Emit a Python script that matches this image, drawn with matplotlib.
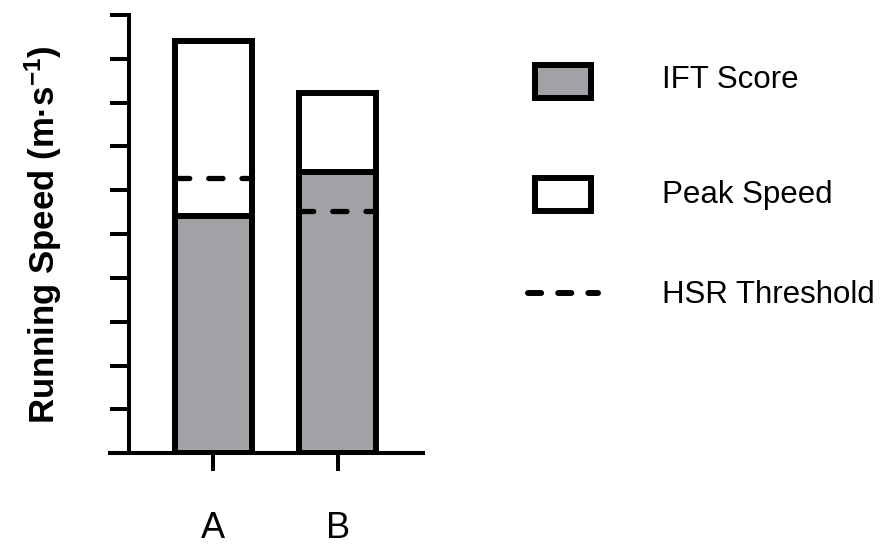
import matplotlib
matplotlib.use("Agg")
import matplotlib.pyplot as plt
from matplotlib.patches import Rectangle

# datos (unidades = marcas del eje, 0-10)
groups = ["A", "B"]
ift_score = [5.41, 6.41]
peak_speed = [9.41, 8.22]
hsr_threshold = [6.27, 5.53]

legend_labels = ["IFT Score", "Peak Speed", "HSR Threshold"]

grey = "#a2a1a5"
plt.rcParams["font.family"] = ["Liberation Sans", "DejaVu Sans"]
plt.rcParams["mathtext.default"] = "regular"

fig = plt.figure(figsize=(8.87, 5.47), dpi=100)
W, H = 887, 547
ax = fig.add_axes([110 / W, (H - 453.3) / H, 313 / W, 438.3 / H])

x = [1, 2]
bw = 0.62
edge = 4.3

ax.bar(x, ift_score, width=bw, color=grey, edgecolor="black", linewidth=edge, zorder=3)
ax.bar(x, [p - i for p, i in zip(peak_speed, ift_score)], bottom=ift_score, width=bw,
       color="white", edgecolor="black", linewidth=edge, zorder=3)
for xi, h in zip(x, hsr_threshold):
    ax.plot([xi - bw / 2, xi + bw / 2], [h, h], color="black", lw=3.8,
            dashes=(2.7, 3.6), dash_capstyle="round", zorder=4)

ax.set_xlim(0.17, 2.686)
ax.set_ylim(0, 10)
ax.set_yticks(range(0, 11))
ax.set_yticklabels([])
ax.set_xticks(x)
ax.set_xticklabels(groups, fontsize=26)

for s in ["top", "right"]:
    ax.spines[s].set_visible(False)
ax.spines["left"].set_position(("data", 0.322))
ax.spines["left"].set_linewidth(2.9)
ax.spines["bottom"].set_linewidth(2.9)
ax.tick_params(axis="y", direction="out", length=13.7, width=2.9)
ax.tick_params(axis="x", direction="out", length=13, width=2.9, pad=28.5)

ax.set_ylabel("Running Speed (m·s$^{-1}$)", fontsize=25, fontweight="bold")
ax.yaxis.set_label_coords(-0.147, 0.5)

# leyenda dibujada a mano (espaciado desigual como en el original)
lax = fig.add_axes([0, 0, 1, 1], zorder=5)
lax.set_xlim(0, W)
lax.set_ylim(H, 0)
lax.axis("off")
lax.add_patch(Rectangle((534.7, 64.7), 56.3, 33.3, facecolor=grey, edgecolor="black", linewidth=edge))
lax.add_patch(Rectangle((534.7, 178), 56.3, 33, facecolor="white", edgecolor="black", linewidth=edge))
lax.plot([528, 598], [293, 293], color="black", lw=4.3, dashes=(2.2, 2.85), dash_capstyle="round")
for lab, yb in zip(legend_labels, [88.5, 203, 303]):
    lax.text(661.7, yb, lab, fontsize=22.5, va="baseline", ha="left")

fig.savefig("out.png", dpi=100)
